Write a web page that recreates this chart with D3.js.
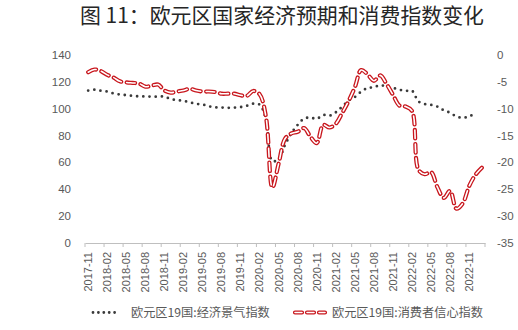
<!DOCTYPE html>
<html><head><meta charset="utf-8">
<script src="https://cdn.jsdelivr.net/npm/d3@7"></script>
<style>
body{margin:0;background:#fff;}
svg{display:block;font-family:"Noto Sans CJK SC","Noto Sans",sans-serif;}
</style></head>
<body><svg id="c" width="518" height="330"></svg>
<script>
const months = ["2017-11","2017-12","2018-01","2018-02","2018-03","2018-04","2018-05","2018-06","2018-07","2018-08","2018-09","2018-10","2018-11","2018-12",
"2019-01","2019-02","2019-03","2019-04","2019-05","2019-06","2019-07","2019-08","2019-09","2019-10","2019-11","2019-12",
"2020-01","2020-02","2020-03","2020-04","2020-05","2020-06","2020-07","2020-08","2020-09","2020-10","2020-11","2020-12",
"2021-01","2021-02","2021-03","2021-04","2021-05","2021-06","2021-07","2021-08","2021-09","2021-10","2021-11","2021-12",
"2022-01","2022-02","2022-03","2022-04","2022-05","2022-06","2022-07","2022-08","2022-09","2022-10","2022-11","2022-12","2023-01"];
const esi = [113.5,114.2,113.4,112.8,111.4,110.6,110.1,109.6,109.2,109.1,109.0,109.0,109.0,107.2,
106.4,105.8,104.8,103.6,103.2,101.8,101.0,100.9,100.7,100.8,101.2,102.2,
103.8,103.0,92.5,61.0,62.5,73.0,81.7,88.0,92.6,93.4,92.4,95.3,
94.8,97.3,101.5,106.0,108.7,112.7,115.4,116.0,117.5,116.5,115.5,114.2,
113.3,113.4,105.5,103.5,102.9,101.6,98.8,97.0,94.2,93.3,94.2,96.8];
const cci = [-3.2,-2.7,-3.0,-3.7,-4.2,-4.9,-5.1,-5.2,-5.3,-5.9,-5.7,-5.5,-6.6,-7.0,
-6.8,-6.6,-6.3,-6.6,-6.8,-6.8,-6.9,-7.2,-7.2,-7.2,-7.5,-7.6,
-6.7,-7.3,-11.5,-24.7,-20.2,-15.6,-14.6,-14.3,-13.6,-15.2,-16.4,-13.0,
-13.5,-12.8,-10.8,-8.6,-6.0,-2.8,-3.6,-4.8,-3.8,-5.4,-7.4,-9.4,
-9.6,-10.4,-21.3,-22.2,-21.8,-24.6,-26.6,-25.3,-28.6,-27.6,-24.4,-22.3,-21.0];
const leftTicks = [0,20,40,60,80,100,120,140];
const rightTicks = [0,-5,-10,-15,-20,-25,-30,-35];
const title = "图 11：欧元区国家经济预期和消费指数变化";
const seriesNames = ["欧元区19国:经济景气指数","欧元区19国:消费者信心指数"];

const svg = d3.select("#c");
const x = d3.scaleBand().domain(months).range([85,485]).padding(0);
const yL = d3.scaleLinear().domain([0,140]).range([243,55]);
const yR = d3.scaleLinear().domain([-35,0]).range([243,55]);
const cx = m => x(m) + x.bandwidth()/2;
const txtCol = "#595959";

svg.append("text").attr("x",282).attr("y",23).attr("text-anchor","middle")
  .attr("font-size",20.9).attr("fill","#262626").text(title);

// left axis labels
svg.append("g").selectAll("text").data(leftTicks).join("text")
  .attr("x",71).attr("y",d=>yL(d)).attr("dy","0.35em").attr("text-anchor","end")
  .attr("font-size",11.5).attr("fill",txtCol).attr("font-family","Liberation Sans, Arial, sans-serif").text(d=>d);
// right axis labels
svg.append("g").selectAll("text").data(rightTicks).join("text")
  .attr("x",497).attr("y",d=>yR(d)).attr("dy","0.35em").attr("text-anchor","start")
  .attr("font-size",11.5).attr("fill",txtCol).attr("font-family","Liberation Sans, Arial, sans-serif").text(d=>d);

// x axis
const xAxis = d3.axisBottom(x).tickValues(months.filter((m,i)=>i%3===0)).tickSize(0).tickPadding(0);
const gx = svg.append("g").attr("transform","translate(0,243)").call(xAxis);
gx.select(".domain").attr("stroke","#bfbfbf");
gx.selectAll("text").attr("transform","rotate(-90)").attr("text-anchor","end")
  .attr("x",-9).attr("y",0).attr("dy","0.35em").attr("font-size",11)
  .attr("fill",txtCol).attr("font-family","Liberation Sans, Arial, sans-serif");
const tickPos = d3.range(0, months.length+1, 3).map(i => 85 + i*x.step());
gx.selectAll(".sep").data(tickPos).join("line").attr("class","sep")
  .attr("x1",d=>d).attr("x2",d=>d).attr("y1",0).attr("y2",4).attr("stroke","#bfbfbf");

// lines
const lineL = d3.line().x((d,i)=>cx(months[i])).y(d=>yL(d)).curve(d3.curveCatmullRom.alpha(0.5));
const lineR = d3.line().x((d,i)=>cx(months[i])).y(d=>yR(d)).curve(d3.curveCatmullRom.alpha(0.5));

svg.append("path").datum(esi).attr("d",lineL).attr("fill","none")
  .attr("stroke","#3a3a3a").attr("stroke-width",2.8).attr("stroke-linecap","round")
  .attr("stroke-dasharray","0 6.2");

svg.append("path").datum(cci).attr("d",lineR).attr("fill","none")
  .attr("stroke","#c8161d").attr("stroke-width",4.2).attr("stroke-linecap","round")
  .attr("stroke-dasharray","8.5 5.5");
svg.append("path").datum(cci).attr("d",lineR).attr("fill","none")
  .attr("stroke","#ffffff").attr("stroke-width",1.6).attr("stroke-linecap","round")
  .attr("stroke-dasharray","8.5 5.5");

// legend
const lg = svg.append("g");
lg.append("line").attr("x1",93).attr("x2",120).attr("y1",312.5).attr("y2",312.5)
  .attr("stroke","#3a3a3a").attr("stroke-width",2.8).attr("stroke-linecap","round").attr("stroke-dasharray","0 5.4");
lg.append("text").attr("x",131).attr("y",312.5).attr("dy","0.35em").attr("font-size",12.2)
  .attr("fill",txtCol).text(seriesNames[0]);
[0,1].forEach(k=>{
  lg.append("line").attr("x1",295).attr("x2",325).attr("y1",312.5).attr("y2",312.5)
    .attr("stroke",k?"#ffffff":"#c8161d").attr("stroke-width",k?1.6:4.2)
    .attr("stroke-linecap","round").attr("stroke-dasharray","7 5");
});
lg.append("text").attr("x",332).attr("y",312.5).attr("dy","0.35em").attr("font-size",12.2)
  .attr("fill",txtCol).text(seriesNames[1]);
</script></body></html>
